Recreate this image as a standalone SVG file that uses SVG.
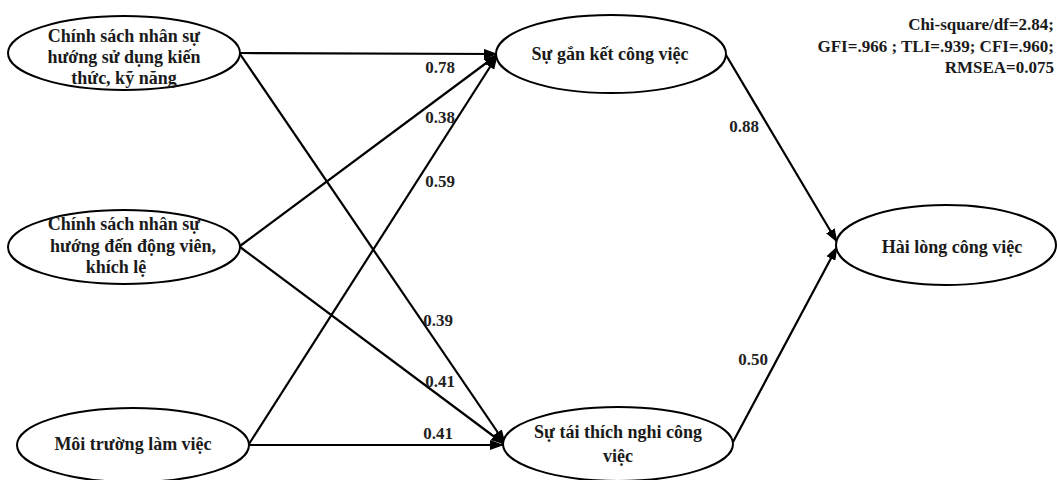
<svg xmlns="http://www.w3.org/2000/svg" width="1057" height="480" viewBox="0 0 1057 480">
<style>
.n{fill:#fff;stroke:#000;stroke-width:2}
.t{font-family:"Liberation Serif","DejaVu Serif",serif;font-weight:bold;font-size:18px;fill:#1a1a1a;text-anchor:middle}
.l{font-family:"Liberation Serif","DejaVu Serif",serif;font-weight:bold;font-size:17px;fill:#222;text-anchor:middle}
.s{font-family:"Liberation Serif","DejaVu Serif",serif;font-weight:bold;font-size:17px;fill:#1a1a1a;text-anchor:end}
.c{stroke:#000;stroke-width:2.2;fill:none;marker-end:url(#a)}
</style>
<defs>
<marker id="a" markerUnits="userSpaceOnUse" markerWidth="14" markerHeight="10" refX="13" refY="5" orient="auto">
<path d="M0,0 L14,5 L0,10 z" fill="#000"/>
</marker>
</defs>
<g id="connectors">
<line class="c" x1="240" y1="53" x2="497" y2="54"/>
<line class="c" x1="240" y1="54" x2="505" y2="443"/>
<line class="c" x1="240" y1="246" x2="497" y2="55"/>
<line class="c" x1="240" y1="247" x2="504" y2="444"/>
<line class="c" x1="249" y1="444" x2="497" y2="56"/>
<line class="c" x1="249" y1="445" x2="503" y2="445"/>
<line class="c" x1="726" y1="55" x2="837" y2="242"/>
<line class="c" x1="733" y1="442" x2="837" y2="247"/>
<text class="l" x="440" y="73">0.78</text>
<text class="l" x="440" y="123">0.38</text>
<text class="l" x="440" y="187">0.59</text>
<text class="l" x="438" y="326">0.39</text>
<text class="l" x="440" y="387">0.41</text>
<text class="l" x="438" y="439">0.41</text>
<text class="l" x="744" y="132">0.88</text>
<text class="l" x="753" y="365">0.50</text>
</g>
<g id="n1">
<ellipse class="n" cx="124" cy="53" rx="116" ry="37"/>
<text class="t" x="124" y="42">Chính sách nhân sự</text>
<text class="t" x="124" y="63">hướng sử dụng kiến</text>
<text class="t" x="124" y="84">thức, kỹ năng</text>
</g>
<g id="n2">
<ellipse class="n" cx="124" cy="247" rx="116" ry="37"/>
<text class="t" x="124" y="230">Chính sách nhân sự</text>
<text class="t" x="133" y="252">hướng đến động viên,</text>
<text class="t" x="116" y="273">khích lệ</text>
</g>
<g id="n3">
<ellipse class="n" cx="133" cy="445" rx="116" ry="37"/>
<text class="t" x="133" y="450">Môi trường làm việc</text>
</g>
<g id="n4">
<ellipse class="n" cx="611" cy="54" rx="115" ry="39"/>
<text class="t" x="610" y="60">Sự gắn kết công việc</text>
</g>
<g id="n5">
<ellipse class="n" cx="618" cy="444" rx="115" ry="37"/>
<text class="t" x="618" y="438">Sự tái thích nghi công</text>
<text class="t" x="618" y="462">việc</text>
</g>
<g id="n6">
<ellipse class="n" cx="946" cy="245" rx="110" ry="40"/>
<text class="t" x="952" y="253">Hài lòng công việc</text>
</g>
<g id="stats">
<text class="s" x="1054" y="30">Chi-square/df=2.84;</text>
<text class="s" x="1054" y="52">GFI=.966 ; TLI=.939; CFI=.960;</text>
<text class="s" x="1054" y="73">RMSEA=0.075</text>
</g>
</svg>
